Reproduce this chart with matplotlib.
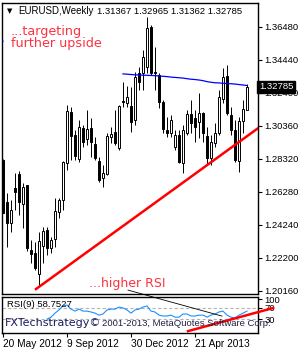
import matplotlib.pyplot as plt
import matplotlib.transforms as mtransforms

plt.rcParams['font.family'] = ['Liberation Sans', 'DejaVu Sans']

# weekly EURUSD candles, 20 May 2012 .. 21 Jul 2013
opens = [1.2826, 1.2566, 1.2436, 1.2653, 1.2739, 1.2554, 1.2671, 1.2269, 1.2251, 1.2121,
         1.2294, 1.2393, 1.2282, 1.2337, 1.2504, 1.2579, 1.2807, 1.3123, 1.2980, 1.2832,
         1.3024, 1.2956, 1.3024, 1.2925, 1.2820, 1.2715, 1.2739, 1.2968, 1.2999, 1.2900,
         1.3190, 1.3178, 1.3160, 1.3073, 1.3364, 1.3364, 1.3401, 1.3648, 1.3370, 1.3351,
         1.3184, 1.3011, 1.2993, 1.2906, 1.2980, 1.2807, 1.2993, 1.3110, 1.3085, 1.3061,
         1.3116, 1.2974, 1.2838, 1.2931, 1.2993, 1.3203, 1.3345, 1.3104, 1.3011, 1.2820,
         1.3067, 1.31367]
highs = [1.2830, 1.2622, 1.2579, 1.2745, 1.2758, 1.2684, 1.2671, 1.2331, 1.2319, 1.2381,
         1.2412, 1.2412, 1.2350, 1.2591, 1.2591, 1.2820, 1.3166, 1.3153, 1.3011, 1.3073,
         1.3042, 1.3135, 1.3085, 1.2968, 1.2844, 1.2795, 1.2993, 1.3030, 1.3135, 1.3166,
         1.3308, 1.3283, 1.3277, 1.3370, 1.3401, 1.3506, 1.3710, 1.3660, 1.3524, 1.3364,
         1.3197, 1.3092, 1.3104, 1.3011, 1.3011, 1.3042, 1.3135, 1.3197, 1.3135, 1.3240,
         1.3123, 1.3030, 1.2980, 1.3055, 1.3259, 1.3395, 1.3413, 1.3153, 1.3073, 1.3092,
         1.3197, 1.32965]
lows = [1.2495, 1.2288, 1.2381, 1.2517, 1.2486, 1.2405, 1.2263, 1.2189, 1.2146, 1.2053,
        1.2189, 1.2238, 1.2251, 1.2288, 1.2467, 1.2517, 1.2764, 1.2826, 1.2826, 1.2813,
        1.2906, 1.2919, 1.2844, 1.2826, 1.2690, 1.2659, 1.2733, 1.2931, 1.2919, 1.2888,
        1.3153, 1.3153, 1.2999, 1.3042, 1.3259, 1.3259, 1.3364, 1.3351, 1.3259, 1.3147,
        1.2993, 1.2968, 1.2968, 1.2888, 1.2807, 1.2746, 1.2980, 1.2993, 1.2937, 1.2962,
        1.2937, 1.2795, 1.2795, 1.2906, 1.2980, 1.3178, 1.3104, 1.2980, 1.2813, 1.2752,
        1.2993, 1.31362]
closes = [1.2498, 1.2436, 1.2517, 1.2628, 1.2566, 1.2659, 1.2282, 1.2245, 1.2158, 1.2325,
          1.2387, 1.2282, 1.2331, 1.2511, 1.2579, 1.2813, 1.3129, 1.2974, 1.2851, 1.3030,
          1.2937, 1.3017, 1.2937, 1.2838, 1.2702, 1.2746, 1.2974, 1.2987, 1.2931, 1.3160,
          1.3184, 1.3215, 1.3061, 1.3339, 1.3308, 1.3463, 1.3642, 1.3364, 1.3364, 1.3184,
          1.3017, 1.2993, 1.3073, 1.2980, 1.2813, 1.3011, 1.3110, 1.3052, 1.3030, 1.3116,
          1.2993, 1.2838, 1.2937, 1.2993, 1.3215, 1.3339, 1.3116, 1.3011, 1.2826, 1.3067,
          1.3141, 1.32785]

# moving average (blue), starts at candle 30
ma_start = 30
ma_vals = [1.3358, 1.3356, 1.3354, 1.3352, 1.3351, 1.3350, 1.3349, 1.3348, 1.3347, 1.3345,
           1.3343, 1.3341, 1.3338, 1.3336, 1.3334, 1.3332, 1.3328, 1.3325, 1.3323, 1.3320,
           1.3316, 1.3310, 1.3306, 1.3303, 1.3302, 1.3300, 1.3298, 1.3297, 1.3295, 1.3292,
           1.3289, 1.3286]
ma_left_idx = [-1, 0]
ma_left_vals = [1.3563, 1.3560]

# red support line
trend_idx = [8.25, 63.75]
trend_px = [1.2028, 1.3022]

# RSI(9), from candle 11
rsi_start = 11
rsi_vals = [31, 38, 52, 63, 77, 80, 66, 59, 66, 59,
            59, 56, 52, 45, 49, 63, 66, 66, 73, 70,
            63, 52, 63, 66, 73, 77, 59, 56, 45, 42,
            42, 45, 38, 38, 49, 49, 42, 42, 45, 45,
            38, 45, 49, 56, 59, 45, 38, 35, 45, 52,
            58.75]
rsi_red_idx = [46.25, 67.5]
rsi_red_val = [-10.4, 69.6]
rsi_black_idx = [31.25, 54.75]
rsi_black_val = [132, 41.7]

price_ticks = [1.36480, 1.34440, 1.32400, 1.30360, 1.28320, 1.26280, 1.24240, 1.22200, 1.20160]
date_idx = [0, 16, 32, 48]
date_labels = ['20 May 2012', '9 Sep 2012', '30 Dec 2012', '21 Apr 2013']

W, H = 300, 350
fig = plt.figure(figsize=(3, 3.5), dpi=100)
fig.patch.set_facecolor('white')


def fx(x):
    return x / W


def fy(y):
    return 1 - y / H


ax = fig.add_axes([fx(2), fy(294), fx(256), 291 / H])
ax_rsi = fig.add_axes([fx(2), fy(333), fx(256), 36 / H])

# candles
for i in range(len(opens)):
    o, h, l, c = opens[i], highs[i], lows[i], closes[i]
    ax.vlines(i, l, h, color='black', lw=0.7, zorder=2)
    bull = c >= o
    ax.bar(i, max(abs(c - o), 0.0003), bottom=min(o, c), width=0.55,
           color='white' if bull else 'black', edgecolor='black', lw=0.7, zorder=3)

ax.plot(range(ma_start, ma_start + len(ma_vals)), ma_vals, color='#0000ff', lw=0.9, zorder=4)
ax.plot(ma_left_idx, ma_left_vals, color='#0000ff', lw=0.9, zorder=4)
ax.plot(trend_idx, trend_px, color='#ff0000', lw=1.8, zorder=5)

ax.set_xlim(-0.25, 63.75)
ax.set_ylim(1.19974, 1.3796)
ax.set_xticks([])
ax.yaxis.tick_right()
ax.set_yticks(price_ticks)
ax.set_yticklabels(['%.5f' % p for p in price_ticks])
ax.tick_params(axis='y', length=3, width=0.8, pad=1.5, labelsize=6.8)
for s in ax.spines.values():
    s.set_linewidth(1)

# current price box
trans = mtransforms.blended_transform_factory(ax.transAxes, ax.transData)
ax.text(1.004, closes[-1], '%.5f' % closes[-1], transform=trans, color='white',
        fontsize=6.8, va='center', ha='left', zorder=10,
        bbox=dict(boxstyle='square,pad=0.18', fc='black', ec='black'))

# texts
fig.text(fx(7), fy(11), '\u25bc', fontsize=5, family='DejaVu Sans', va='center', ha='left')
fig.text(fx(18), fy(11), 'EURUSD,Weekly', fontsize=7, va='center', ha='left')
fig.text(fx(97), fy(11), '1.31367 1.32965 1.31362 1.32785', fontsize=6.8, va='center', ha='left')
fig.text(fx(11), fy(32), '...targeting', fontsize=9.2, family='DejaVu Sans',
         color='#ff3040', va='center', ha='left')
fig.text(fx(11), fy(44), 'further upside', fontsize=9.2, family='DejaVu Sans',
         color='#ff3040', va='center', ha='left')
fig.text(fx(89), fy(283), '...higher RSI', fontsize=9, family='DejaVu Sans',
         color='#ff3040', va='center', ha='left')

# RSI panel
ax_rsi.axhline(70, color='#b4b4b4', lw=0.8, ls=(0, (3, 2)))
ax_rsi.axhline(30, color='#b4b4b4', lw=0.8, ls=(0, (3, 2)))
ax_rsi.plot(range(rsi_start, rsi_start + len(rsi_vals)), rsi_vals, color='#1e90ff', lw=0.8)
ax_rsi.plot(rsi_black_idx, rsi_black_val, color='black', lw=0.6, clip_on=False, zorder=6)
ax_rsi.plot(rsi_red_idx, rsi_red_val, color='#ff0000', lw=1.8, clip_on=False, zorder=7)
ax_rsi.set_xlim(-0.25, 63.75)
ax_rsi.set_ylim(-17, 108)
ax_rsi.yaxis.tick_right()
ax_rsi.set_yticks([100, 70, 30])
ax_rsi.set_yticklabels(['100', '70', '30'])
ax_rsi.tick_params(axis='y', length=3, width=0.8, pad=1.5, labelsize=6.8)
ax_rsi.set_xticks(date_idx)
ax_rsi.set_xticklabels(date_labels, ha='left')
ax_rsi.tick_params(axis='x', length=3, width=0.8, pad=1, labelsize=7.3)
for s in ax_rsi.spines.values():
    s.set_linewidth(1)

ax_rsi.text(0.02, 0.78, 'RSI(9) 58.7527', transform=ax_rsi.transAxes, fontsize=6.8,
            va='center', ha='left', zorder=8)
fig.text(fx(5), fy(323), 'FXTechstrategy\u00a9', fontsize=8, family='DejaVu Sans',
         color='#1c1c5c', va='center', ha='left', zorder=8)
fig.text(fx(102), fy(323), '2001-2013, MetaQuotes Software Corp.', fontsize=6.8,
         color='#202040', va='center', ha='left', zorder=8)

fig.savefig('out.png', dpi=100, facecolor='white')
